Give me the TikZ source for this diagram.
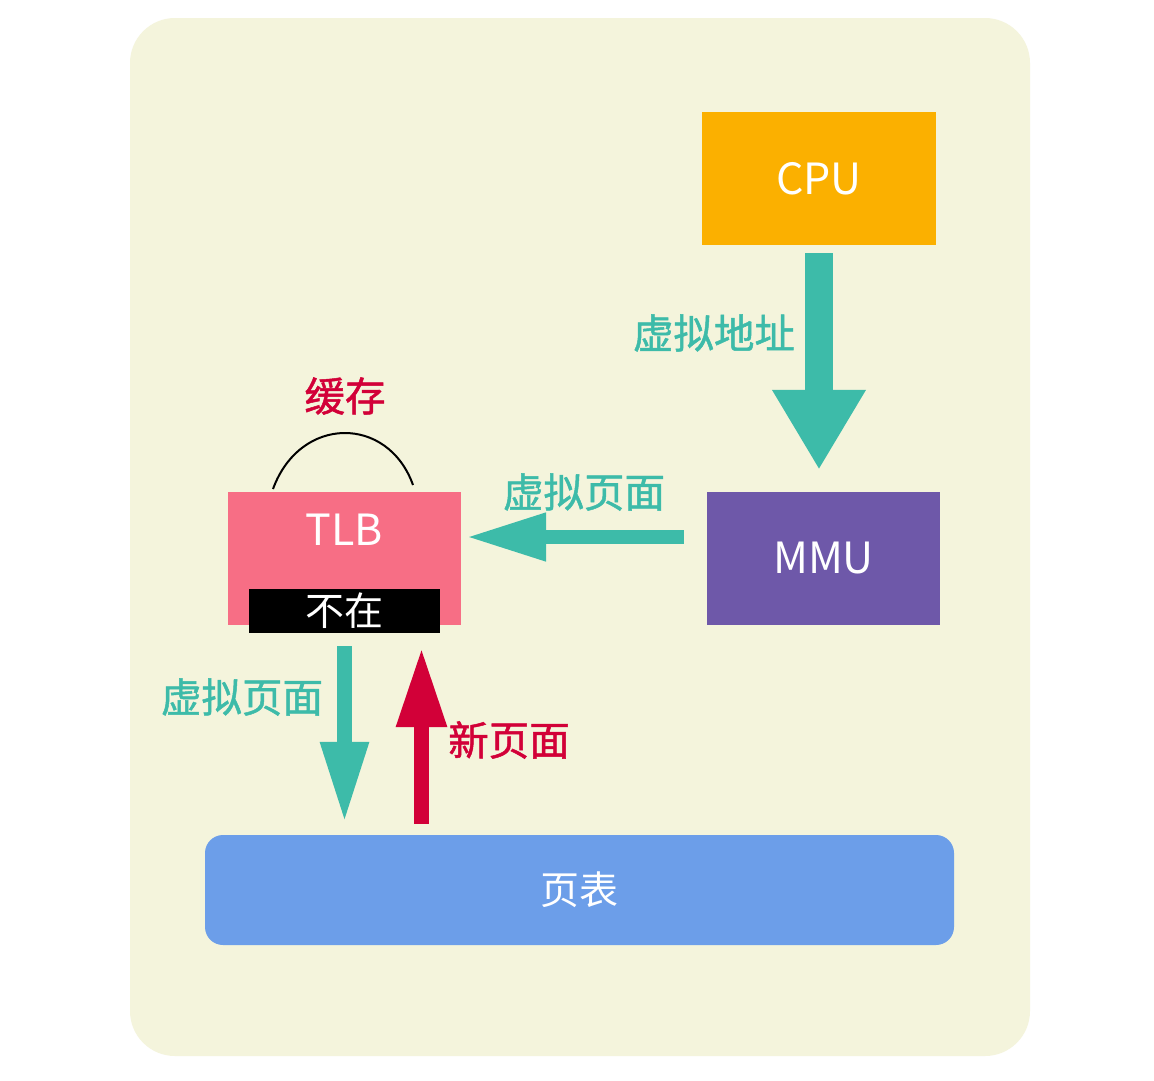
\documentclass[tikz,border=0pt]{standalone}
\usepackage{fontspec}
\setmainfont{Noto Sans CJK SC}
\newfontfamily\lblfont[FakeBold=1.2]{Noto Sans CJK SC}
\usetikzlibrary{arrows.meta}
\definecolor{bgc}{HTML}{F4F4DC}
\definecolor{cpuc}{HTML}{FBB000}
\definecolor{tealc}{HTML}{3DBBA9}
\definecolor{mmuc}{HTML}{6E58A9}
\definecolor{tlbc}{HTML}{F76E85}
\definecolor{redc}{HTML}{D20038}
\definecolor{bluec}{HTML}{6C9EE9}
\tikzset{
  box/.style={draw=none, inner sep=0pt, minimum width=#1, text=white},
  lbl/.style={inner sep=0pt, font=\lblfont\fontsize{40.5}{40.5}\selectfont},
  big/.style={font=\fontsize{43}{43}\selectfont}
}
\begin{document}
\begin{tikzpicture}[x=1pt,y=-1pt]
\useasboundingbox (0,0) rectangle (1154,1080);
\fill[white] (0,0) rectangle (1154,1080);
\fill[bgc, rounded corners=45pt] (130,18) rectangle (1030,1056);

\node[box=234pt, fill=cpuc, minimum height=133pt, big] (cpu) at (819,178.5) {CPU};
\node[box=233pt, fill=mmuc, minimum height=133pt, big] (mmu) at (823.5,558.5) {MMU};
\node[box=233pt, fill=tlbc, minimum height=133pt] (tlb) at (344.5,558.5) {};
\node[text=white, big, inner sep=0pt] (tlbt) at (344.5,530) {TLB};
\node[box=191pt, fill=black, minimum height=44pt, font=\fontsize{39}{39}\selectfont] (nz) at (344.5,611) {不在};
\node[box=749pt, fill=bluec, minimum height=110pt, rounded corners=18pt, font=\fontsize{39}{39}\selectfont] (pt) at (579.5,890) {页表};

% CPU -> MMU
\draw[tealc, line width=28pt, -{Triangle[width=88pt,length=80pt]}, shorten <=8pt, shorten >=22pt]
  (cpu.south) -- (cpu.south |- mmu.north);
\node[lbl, text=tealc] (l1) at (714,333) {虚拟地址};

% MMU -> TLB
\coordinate (m1) at ([yshift=21.5pt]mmu.west);
\draw[tealc, line width=14pt, -{Triangle[width=45pt,length=80pt]}, shorten <=23pt, shorten >=5pt]
  (m1) -- (m1 -| tlb.east);
\node[lbl, text=tealc] (l2) at (584,492) {虚拟页面};

% TLB -> page table
\draw[tealc, line width=15pt, -{Triangle[width=45pt,length=81pt]}, shorten <=21pt, shorten >=12pt]
  (tlb.south) -- (tlb.south |- pt.north);
\node[lbl, text=tealc] (l3) at (242,697) {虚拟页面};

% page table -> TLB (new page)
\coordinate (r1) at ([xshift=77pt]tlb.south);
\draw[redc, line width=15pt, -{Triangle[width=47pt,length=80pt]}, shorten <=11pt, shorten >=22pt]
  (r1 |- pt.north) -- (r1);
\node[lbl, text=redc] (l4) at (509,740) {新页面};

% cache arc
\coordinate (c1) at (273,489);
\coordinate (c2) at (413,485);
\draw[black, line width=2pt] (c1) .. controls (300,415) and (388,415) .. (c2);
\node[lbl, text=redc] (l5) at (345,396) {缓存};
\end{tikzpicture}
\end{document}
